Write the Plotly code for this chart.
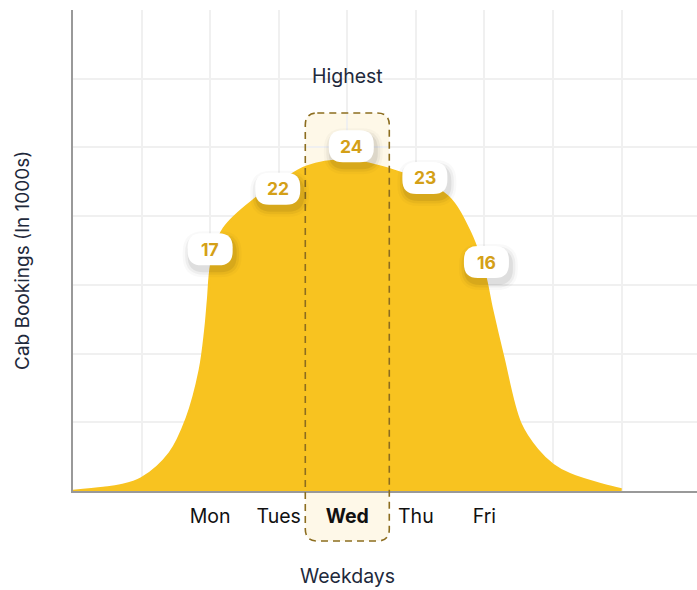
import plotly.graph_objects as go

# ---- data ----
positions = [0, 1, 2, 3, 4, 5, 6, 7, 8]
day_labels = ["", "", "Mon", "Tues", "Wed", "Thu", "Fri", "", ""]
bookings = [0, 1, 17, 22, 24, 23, 16, 2, 0]
labelled = [2, 3, 4, 5, 6]          # indices that get a value pill
highlight_index = 4                 # "Highest" day
y_max = 35
y_step = 5

# outline of the filled curve
outline_pos = [0, 0.44, 0.69, 1.0, 1.41, 1.66, 1.85, 1.93, 1.97, 2.02, 2.2, 2.67, 3.0,
               3.41, 4.0, 4.62, 5.0, 5.47, 5.79, 6.0, 6.11, 6.27, 6.52, 6.77,
               7.0, 7.25, 7.73, 8.0]
outline_val = [0, 0.22, 0.4, 0.92, 2.75, 5.3, 8.8, 11.7, 13.9, 16.5, 19.1, 21.3, 22.4,
               23.6, 24.05, 23.4, 22.7, 21.4, 18.8, 15.8, 13.2, 9.8, 4.95, 3.0,
               1.9, 1.2, 0.44, 0.12]

# ---- style ----
YELLOW = "#F8C320"
LABEL_TXT = "#D4A017"
DASH = "#8C6D1F"
FONT = "Inter"
TITLE_CLR = "#1E293B"
pill_shift = {2: (0, 8), 3: (-1, 0), 4: (4, 15), 5: (9, -3), 6: (2, 9)}  # px offsets (x, y-up)

W, H = 697, 590
ml, mr, mt, mb = 73, 0, 10, 99
pw, ph = W - ml - mr, H - mt - mb
x_range = [0, 9.1]
px_per_x = pw / (x_range[1] - x_range[0])

fig = go.Figure()
fig.add_trace(go.Scatter(
    x=outline_pos, y=outline_val, mode="lines",
    line=dict(color=YELLOW, width=2.5, shape="spline", smoothing=1.0, simplify=False),
    fill="tozeroy", fillcolor=YELLOW, hoverinfo="skip", showlegend=False,
))

def pill_path(cx, cy, w, h, r):
    x0, x1 = cx - w / 2, cx + w / 2
    y0, y1 = cy - h / 2, cy + h / 2
    return (f"M{x0 + r},{y0} L{x1 - r},{y0} Q{x1},{y0} {x1},{y0 + r} "
            f"L{x1},{y1 - r} Q{x1},{y1} {x1 - r},{y1} L{x0 + r},{y1} "
            f"Q{x0},{y1} {x0},{y1 - r} L{x0},{y0 + r} Q{x0},{y0} {x0 + r},{y0} Z")

shapes = []
# highlight box (fill below, dashed outline above)
hx = 42 / px_per_x
rx = 12 / px_per_x
top_px, bot_px = 113, 541
ytop = (mt + ph - top_px) / ph
ybot = (mt + ph - bot_px) / ph
ry = 12 / ph
cx = positions[highlight_index]
xl, xr = cx - hx, cx + hx
box = (f"M{xl + rx},{ytop} L{xr - rx},{ytop} Q{xr},{ytop} {xr},{ytop - ry} "
       f"L{xr},{ybot + ry} Q{xr},{ybot} {xr - rx},{ybot} L{xl + rx},{ybot} "
       f"Q{xl},{ybot} {xl},{ybot + ry} L{xl},{ytop - ry} Q{xl},{ytop} {xl + rx},{ytop} Z")
shapes.append(dict(type="path", xref="x", yref="paper", path=box,
                   fillcolor="#FEF8E8", line=dict(width=0), layer="between"))
shapes.append(dict(type="path", xref="x", yref="paper", path=box,
                   fillcolor="rgba(0,0,0,0)", line=dict(color=DASH, width=1.6, dash="7px,5px"),
                   layer="above"))

annotations = []
for i in labelled:
    dx, dy = pill_shift[i]
    for k, (sz, alpha) in enumerate([(14, 0.025), (9, 0.045), (4, 0.065)]):
        shapes.append(dict(type="path", xref="x", yref="y", xsizemode="pixel", ysizemode="pixel",
                           xanchor=positions[i], yanchor=bookings[i],
                           path=pill_path(dx + 2, dy - 5, 45 + sz, 32 + sz, 14 + sz / 2),
                           fillcolor=f"rgba(0,0,0,{alpha})", line=dict(width=0), layer="above"))
    shapes.append(dict(type="path", xref="x", yref="y", xsizemode="pixel", ysizemode="pixel",
                       xanchor=positions[i], yanchor=bookings[i],
                       path=pill_path(dx, dy, 45, 32, 14),
                       fillcolor="white", line=dict(width=0), layer="above"))
    annotations.append(dict(x=positions[i], y=bookings[i], xref="x", yref="y",
                            text=f"<b>{bookings[i]}</b>", showarrow=False,
                            xanchor="center", yanchor="middle",
                            xshift=dx, yshift=dy,
                            font=dict(family=FONT, size=17.5, color=LABEL_TXT)))

annotations.append(dict(x=positions[highlight_index], y=(mt + ph - 76) / ph, xref="x", yref="paper",
                        text="Highest", showarrow=False, xanchor="center", yanchor="middle",
                        font=dict(family=FONT, size=19.5, color=TITLE_CLR)))
annotations.append(dict(x=positions[highlight_index], y=(mt + ph - 576) / ph, xref="x", yref="paper",
                        text="Weekdays", showarrow=False, xanchor="center", yanchor="middle",
                        font=dict(family=FONT, size=19.5, color=TITLE_CLR)))
annotations.append(dict(x=(22 - ml) / pw, y=(mt + ph - 261) / ph, xref="paper", yref="paper",
                        text="Cab Bookings (In 1000s)", showarrow=False, textangle=-90,
                        xanchor="center", yanchor="middle",
                        font=dict(family=FONT, size=19, color=TITLE_CLR)))

ticktext = [f"<b>{d}</b>" if i == highlight_index else d for i, d in enumerate(day_labels)]

fig.update_layout(
    width=W, height=H, margin=dict(l=ml, r=mr, t=mt, b=mb),
    paper_bgcolor="white", plot_bgcolor="white",
    shapes=shapes, annotations=annotations,
    font=dict(family=FONT, size=19.5, color="#111111"),
    xaxis=dict(range=x_range, tickmode="array", tickvals=positions[1:], ticktext=ticktext[1:],
               showgrid=True, gridcolor="#F0F0F0", gridwidth=1.5, zeroline=False,
               showline=True, linecolor="#999999", linewidth=2, layer="below traces",
               ticks="", ticklabelstandoff=7, tickfont=dict(family=FONT, size=19.5, color="#111111"),
               fixedrange=True),
    yaxis=dict(range=[0, y_max], dtick=y_step, showticklabels=False,
               showgrid=True, gridcolor="#F0F0F0", gridwidth=1.5, zeroline=False,
               showline=True, linecolor="#999999", linewidth=2, fixedrange=True),
)

fig.write_html("out.html", post_script="document.body.style.margin='0';",
               config={"displayModeBar": False})
